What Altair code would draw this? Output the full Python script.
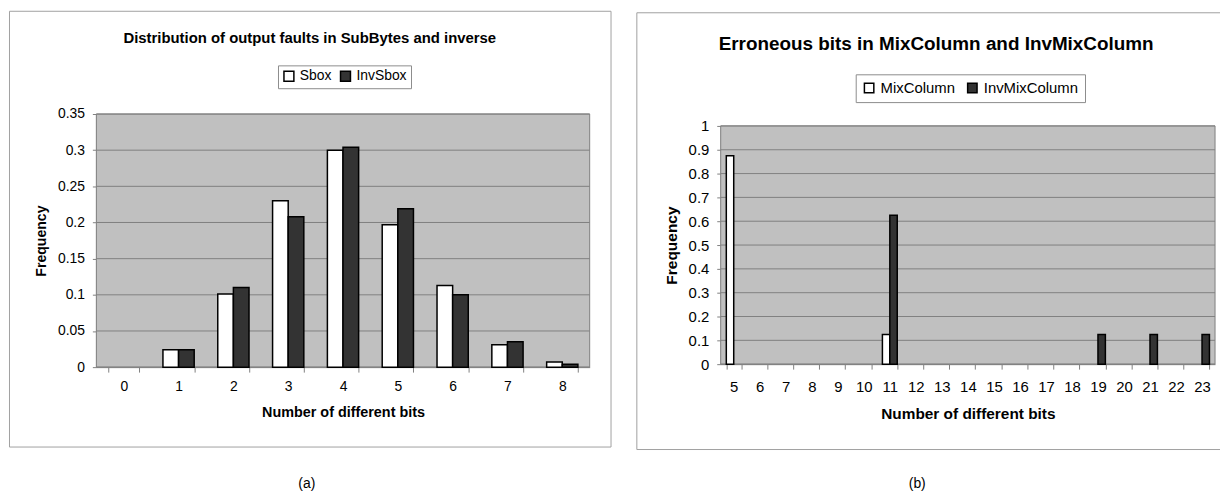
import altair as alt
import pandas as pd

# ---------------- data: panel (a) ----------------
bits_a = [0, 1, 2, 3, 4, 5, 6, 7, 8]
sbox = [0.0, 0.024, 0.101, 0.230, 0.300, 0.197, 0.113, 0.031, 0.007]
invsbox = [0.0, 0.024, 0.110, 0.208, 0.304, 0.219, 0.100, 0.035, 0.004]
series_a = ["Sbox", "InvSbox"]
y_ticks_a = [0, 0.05, 0.1, 0.15, 0.2, 0.25, 0.3, 0.35]
title_a = "Distribution of output faults in SubBytes and inverse"
caption_a = "(a)"

# ---------------- data: panel (b) ----------------
bits_b = [5, 6, 7, 8, 9, 10, 11, 12, 13, 14, 15, 16, 17, 18, 19, 20, 21, 22, 23]
mixcolumn = [0.875, 0, 0, 0, 0, 0, 0.125, 0, 0, 0, 0, 0, 0, 0, 0, 0, 0, 0, 0]
invmixcolumn = [0, 0, 0, 0, 0, 0, 0.625, 0, 0, 0, 0, 0, 0, 0, 0.125, 0, 0.125, 0, 0.125]
series_b = ["MixColumn", "InvMixColumn"]
y_ticks_b = [0, 0.1, 0.2, 0.3, 0.4, 0.5, 0.6, 0.7, 0.8, 0.9, 1.0]
title_b = "Erroneous bits in MixColumn and InvMixColumn"
caption_b = "(b)"

x_title = "Number of different bits"
y_title = "Frequency"
fills = ["#FFFFFF", "#333333"]
FONT = "Liberation Sans"
PLOT_BG = "#C0C0C0"
PLOT_LINE = "#808080"
PANEL_LINE = "#a0a0a0"

one = pd.DataFrame({"k": [0]})


def long_df(bits, s1, s2, names):
    return pd.DataFrame({
        "bits": bits + bits,
        "series": [names[0]] * len(bits) + [names[1]] * len(bits),
        "value": s1 + s2,
    })


def text_layer(txt, x, y, size, weight):
    return alt.Chart(one).mark_text(
        fontSize=size, fontWeight=weight, align="center", baseline="middle", color="#000000"
    ).encode(x=alt.value(x), y=alt.value(y), text=alt.value(txt))


def panel(bits, s1, s2, names, yticks, ymax, W, H, px0, px1, py0, py1,
          fs_lab, fs_xt, fs_yt, lab_pad_x, xt_y, yt_x, leg, extra, view_bg):
    df = long_df(bits, s1, s2, names)
    y_scale = alt.Scale(domain=[0, ymax], range=[py1, py0], nice=False, zero=True)
    y_axis = alt.Axis(values=yticks, format="~g", title=y_title, offset=-px0,
                      tickSize=4, tickColor=PLOT_LINE, domainColor=PLOT_LINE, grid=False,
                      labelFontSize=fs_lab, labelColor="#000000", labelPadding=8,
                      titleFontSize=fs_yt, titleFontWeight="bold", titleColor="#000000",
                      titleX=yt_x, titleY=(py0 + py1) / 2, titleAngle=270,
                      titleBaseline="middle", titleAlign="center")
    x_axis = alt.Axis(title=x_title, labelAngle=0, tickBand="extent", offset=py1 - H,
                      tickSize=5, tickColor=PLOT_LINE, domainColor=PLOT_LINE, grid=False,
                      labelFontSize=fs_lab, labelColor="#000000",
                      labelBaseline="middle", labelPadding=lab_pad_x,
                      titleFontSize=fs_xt, titleFontWeight="bold", titleColor="#000000",
                      titleX=(px0 + px1) / 2, titleY=xt_y, titleBaseline="middle",
                      titleAlign="center")

    plot_bg = alt.Chart(one).mark_rect(fill=PLOT_BG, stroke=PLOT_LINE, strokeWidth=1).encode(
        x=alt.value(px0), x2=alt.value(px1), y=alt.value(py0), y2=alt.value(py1))

    grid = alt.Chart(pd.DataFrame({"value": yticks})).mark_rule(
        color=PLOT_LINE, strokeWidth=1
    ).encode(
        y=alt.Y("value:Q", scale=y_scale, axis=y_axis),
        x=alt.value(px0), x2=alt.value(px1),
    )

    bars = alt.Chart(df).transform_filter("datum.value > 0").mark_bar(
        stroke="#000000", strokeWidth=1.5
    ).encode(
        x=alt.X("bits:O",
                scale=alt.Scale(domain=bits, range=[px0, px1],
                                paddingInner=0.43, paddingOuter=0.215),
                axis=x_axis),
        xOffset=alt.XOffset("series:N", scale=alt.Scale(domain=names)),
        y=alt.Y("value:Q", scale=y_scale, axis=y_axis),
        color=alt.Color("series:N",
                        scale=alt.Scale(domain=names, range=fills),
                        legend=alt.Legend(title=None, orient="none",
                                          legendX=leg["x"], legendY=leg["y"],
                                          direction="horizontal", strokeColor="#8c8c8c",
                                          fillColor="#FFFFFF", padding=leg["pad"],
                                          labelFontSize=leg["fs"], labelColor="#000000",
                                          symbolType="square", symbolSize=leg["sym"],
                                          symbolStrokeColor="#000000", symbolStrokeWidth=1.5,
                                          labelOffset=leg["off"], columnPadding=leg["col"])),
    )
    return alt.layer(*extra, plot_bg, grid, bars).properties(width=W, height=H, view=view_bg)


# ---------------- panel (a) ----------------
extra_a = [
    text_layer(title_a, 303, 27, 15, "bold"),
    text_layer(caption_a, 300, 477, 14, "normal"),
]
panel_a = panel(bits_a, sbox, invsbox, series_a, y_ticks_a, 0.35,
                606, 439, 88, 585, 104, 359,
                14, 14.5, 14.2, 15, 46, -55,
                dict(x=271, y=55, pad=4, fs=14, sym=100, off=4, col=6),
                extra_a,
                alt.ViewBackground(fill="#FFFFFF", stroke=PANEL_LINE, strokeWidth=1))

# ---------------- panel (b) ----------------
rule_style = dict(color=PANEL_LINE, strokeWidth=1)
extra_b = [
    alt.Chart(one).mark_rule(**rule_style).encode(
        x=alt.value(0.5), x2=alt.value(588), y=alt.value(2)),
    alt.Chart(one).mark_rule(**rule_style).encode(
        x=alt.value(0.5), y=alt.value(2), y2=alt.value(442)),
    alt.Chart(one).mark_rule(**rule_style).encode(
        x=alt.value(0.5), x2=alt.value(588), y=alt.value(442)),
    text_layer(title_b, 302, 34, 19, "bold"),
    text_layer(caption_b, 283, 477, 14, "normal"),
]
panel_b = panel(bits_b, mixcolumn, invmixcolumn, series_b, y_ticks_b, 1.0,
                584, 442, 85, 583, 116, 356,
                15, 15.5, 15.6, 18, 50, -50,
                dict(x=221, y=64, pad=6, fs=15, sym=90, off=4, col=8),
                extra_b,
                alt.ViewBackground(fill="#FFFFFF", strokeWidth=0, strokeOpacity=0))

chart = alt.hconcat(panel_a, panel_b, spacing=25).resolve_scale(
    color="independent", xOffset="independent"
).resolve_legend(color="independent").properties(
    padding=0, background="#FFFFFF"
).configure(font=FONT)

chart.save("out.html", embed_options={"renderer": "svg", "actions": False})
